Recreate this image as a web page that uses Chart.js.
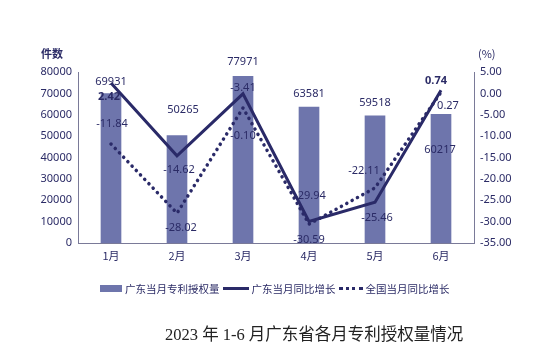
<!DOCTYPE html>
<html><head><meta charset="utf-8">
<script src="https://cdn.jsdelivr.net/npm/chart.js@4"></script>
<style>
html,body{margin:0;padding:0;background:#fff;}
#wrap{position:relative;width:550px;height:360px;font-family:"Noto Sans CJK SC","Noto Sans",sans-serif;color:#2b2b66;}
canvas{position:absolute;left:0;top:0;}
.abs{position:absolute;white-space:nowrap;}
#legend{left:100px;top:281px;font-size:10.5px;display:flex;align-items:center;color:#2b2b66;}
#legend .sw{display:inline-block;margin-right:3px;}
#title{left:165px;top:321px;font-family:"Liberation Serif","Noto Sans CJK SC",serif;font-size:16.5px;color:#222;}
</style></head>
<body><div id="wrap">
<canvas id="c" width="550" height="360"></canvas>
<div class="abs" style="left:41px;top:45px;font-size:11px;font-weight:bold;">件数</div>
<div class="abs" style="left:478px;top:45px;font-size:11px;">(%)</div>
<div class="abs" id="legend"></div>
<div class="abs" id="title">2023 年 1-6 月广东省各月专利授权量情况</div>
</div>
<script>
const categories = ['1月','2月','3月','4月','5月','6月'];
const seriesNames = ['广东当月专利授权量','广东当月同比增长','全国当月同比增长'];
const gdGrants = [69931, 50265, 77971, 63581, 59518, 60217];
const gdGrowth = [2.42, -14.62, -0.10, -29.94, -25.46, 0.74];
const cnGrowth = [-11.84, -28.02, -3.41, -30.59, -22.11, 0.27];
const leftTicks = [0,10000,20000,30000,40000,50000,60000,70000,80000];
const rightTicks = [5,0,-5,-10,-15,-20,-25,-30,-35];

const INK = '#2b2b66';
const BAR = '#6e75ac';
const LINE = '#2a2a68';
const AXIS = '#7a7a98';

// label offsets (px) for each dataset's value labels
const labelOffsets = [
  [[0,-12],[6,-26],[0,-14],[0,-13],[0,-13],[-1,36]],
  [[-2,14],[2,14],[0,42],[1,-26],[2,16],[-5,-9]],
  [[1,-20],[4,15],[0,-20],[0,16],[-11,-17],[7,14]]
];
const labelBold = [[0,0,0,0,0,0],[1,0,0,0,0,1],[0,0,0,0,0,0]];

const valueLabels = {
  id:'valueLabels',
  afterDatasetsDraw(chart){
    const ctx = chart.ctx;
    ctx.save();
    ctx.textAlign='center';ctx.textBaseline='middle';ctx.fillStyle=INK;
    chart.data.datasets.forEach((ds,di)=>{
      const meta = chart.getDatasetMeta(di);
      meta.data.forEach((el,i)=>{
        const v = ds.data[i];
        const txt = di===0 ? String(v) : v.toFixed(2);
        const [dx,dy] = labelOffsets[di][i];
        ctx.font = (labelBold[di][i]?'bold ':'') + '11px "Noto Sans","Noto Sans CJK SC",sans-serif';
        ctx.fillText(txt, el.x+dx, el.y+dy);
      });
    });
    ctx.restore();
  }
};

new Chart(document.getElementById('c'), {
  data:{
    labels:categories,
    datasets:[
      {type:'bar',label:seriesNames[0],data:gdGrants,backgroundColor:BAR,yAxisID:'y',barThickness:20,order:3},
      {type:'line',label:seriesNames[1],data:gdGrowth,borderColor:LINE,borderWidth:3,pointRadius:0,tension:0,yAxisID:'y1',order:1},
      {type:'line',label:seriesNames[2],data:cnGrowth,borderColor:LINE,borderWidth:3.5,borderDash:[0.1,6],borderCapStyle:'round',pointRadius:0,tension:0,yAxisID:'y1',order:2}
    ]
  },
  options:{
    responsive:false,animation:false,
    layout:{padding:{left:0,right:0,top:72,bottom:87}},
    plugins:{legend:{display:false},tooltip:{enabled:false}},
    scales:{
      x:{
        grid:{display:false,drawTicks:false},
        border:{color:AXIS,width:1},
        ticks:{color:INK,font:{size:11,family:'"Noto Sans CJK SC",sans-serif'},padding:6},
        afterFit(s){s.height=30;}
      },
      y:{
        position:'left',min:0,max:80000,
        afterBuildTicks(s){s.ticks=leftTicks.map(v=>({value:v}));},
        grid:{display:false,drawOnChartArea:false,drawTicks:true,tickLength:4,color:AXIS},
        border:{color:AXIS,width:1},
        ticks:{color:INK,font:{size:11,family:'"Noto Sans",sans-serif'},padding:2,callback:v=>String(v)},
        afterFit(s){s.width=78;}
      },
      y1:{
        position:'right',min:-35,max:5,
        afterBuildTicks(s){s.ticks=rightTicks.map(v=>({value:v}));},
        grid:{display:false,drawOnChartArea:false,drawTicks:true,tickLength:4,color:AXIS},
        border:{color:AXIS,width:1},
        ticks:{color:INK,font:{size:11,family:'"Noto Sans",sans-serif'},padding:2,callback:v=>Number(v).toFixed(2)},
        afterFit(s){s.width=76;}
      }
    }
  },
  plugins:[valueLabels]
});

// HTML legend built from series names
const lg = document.getElementById('legend');
const swatches = [
  '<span class="sw" style="width:22px;height:7px;background:'+BAR+'"></span>',
  '<span class="sw" style="width:26px;height:0;border-top:3px solid '+LINE+'"></span>',
  '<span class="sw" style="width:24px;height:0;border-top:3px dotted '+LINE+'"></span>'
];
lg.innerHTML = seriesNames.map((n,i)=>swatches[i]+'<span style="margin-right:3px">'+n+'</span>').join('');
</script>
</body></html>
